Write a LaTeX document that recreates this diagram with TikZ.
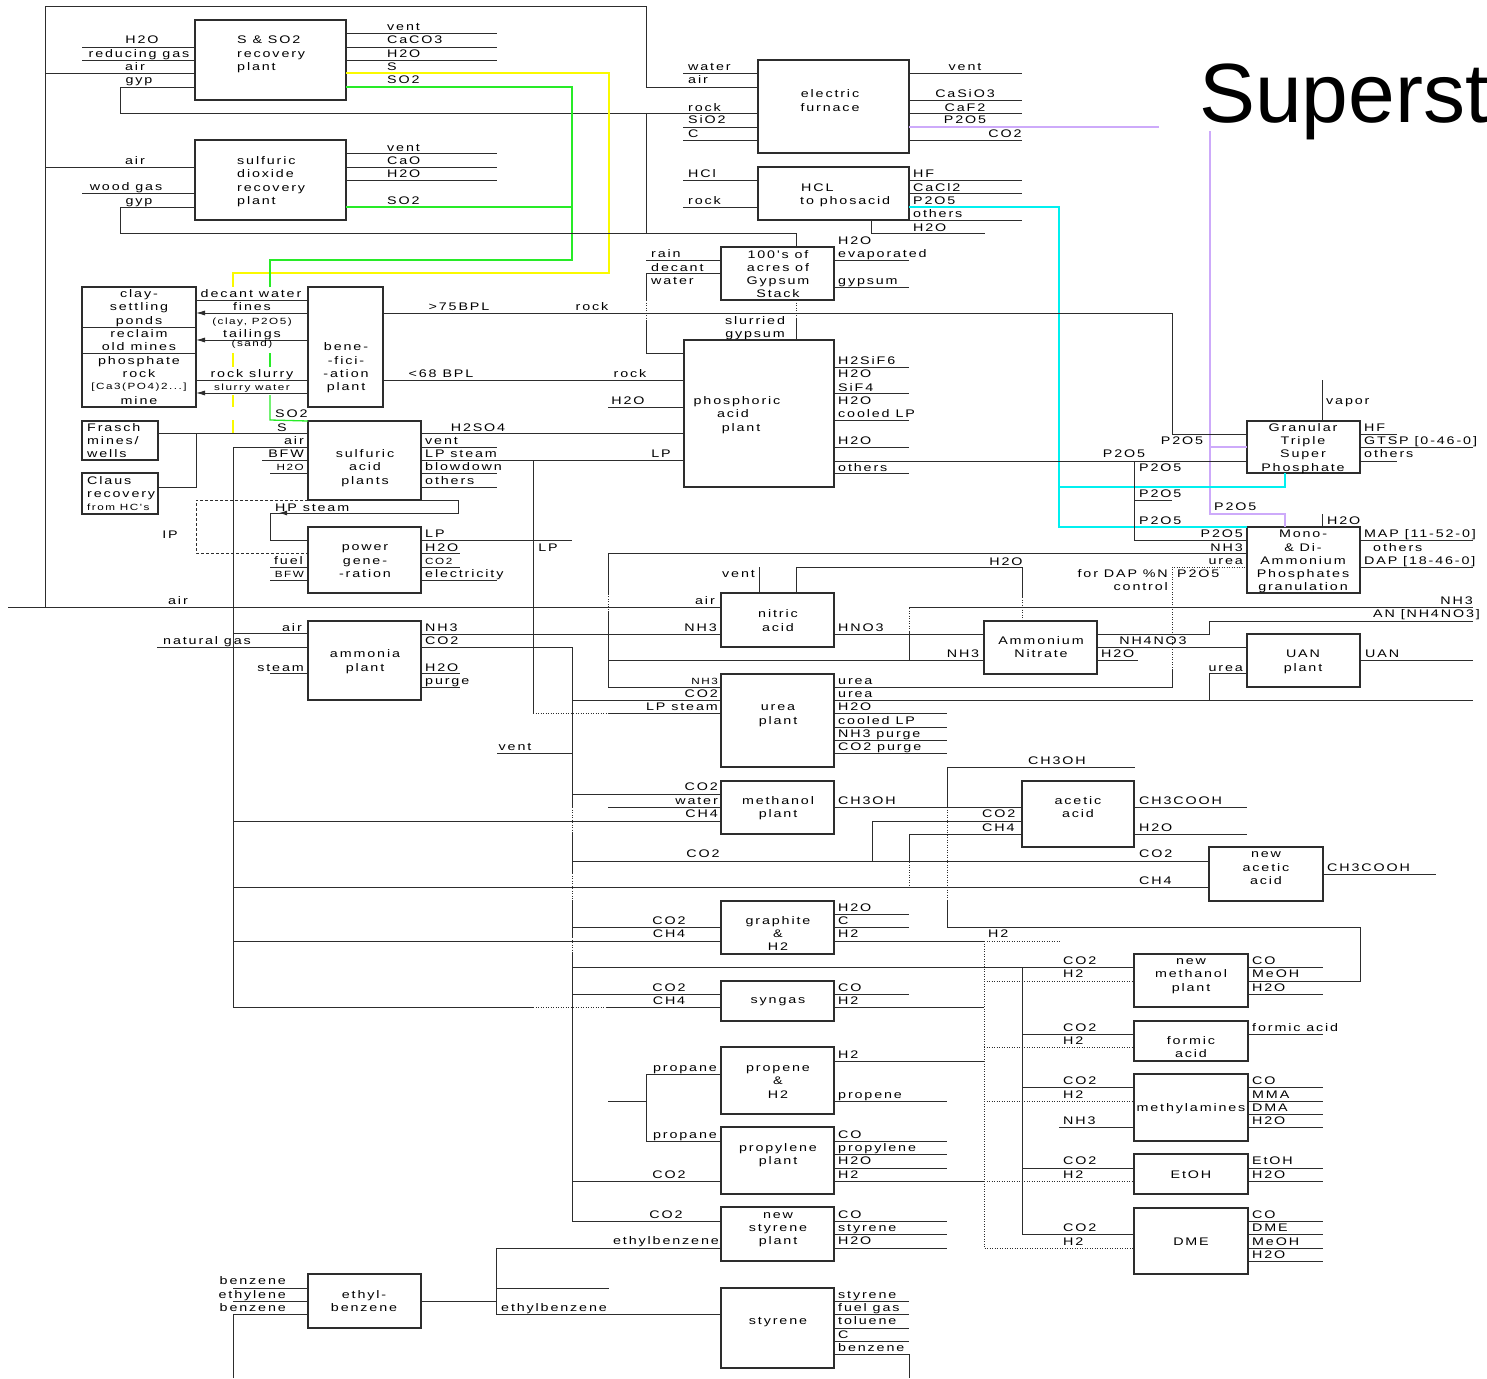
\documentclass[tikz,border=0pt]{standalone}
\usepackage{fontspec}
\setmainfont{Liberation Sans}
\newfontfamily\lblf[FakeStretch=1.3,LetterSpace=17]{Liberation Sans}
\usetikzlibrary{arrows.meta}
\definecolor{dk}{RGB}{45,45,45}
\definecolor{yel}{RGB}{250,250,0}
\definecolor{grn}{RGB}{40,235,40}
\definecolor{cyn}{RGB}{0,240,240}
\definecolor{lav}{RGB}{205,170,250}
\newcounter{lbc}
\newcommand\smf{\fontsize{9}{10}\selectfont}
\newcommand\labC[3]{\stepcounter{lbc}\node[lbl] (t\arabic{lbc}) at (#1,#2) {#3};}
\newcommand\labW[3]{\stepcounter{lbc}\node[lbl,anchor=base west] (t\arabic{lbc}) at (#1,#2) {#3};}
\newcommand\labE[3]{\stepcounter{lbc}\node[lbl,anchor=base east] (t\arabic{lbc}) at (#1,#2) {#3};}
\newcommand\bx[5]{\node[box,minimum width={#4-#2},minimum height={#5-#3}] (#1) at ({(#2+#4)/2},{(#3+#5)/2}) {};}
\newcommand\rs[3]{\draw[ln] (#1.east|-0,#2) -- (#3,#2);}
\newcommand\ls[3]{\draw[ln] (#3,#2) -- (#1.west|-0,#2);}
\begin{document}
\begin{tikzpicture}[x=1pt,y=-1pt,
  ln/.style={draw=dk,line width=0.9pt},
  dl/.style={draw=dk,line width=0.9pt,dash pattern=on 1pt off 1.5pt},
  dsh/.style={draw=dk,line width=0.9pt,dash pattern=on 3pt off 2pt},
  ar/.style={draw=dk,line width=0.9pt,-{Latex[length=9pt,width=5pt]}},
  yl/.style={draw=yel,line width=1.3pt},
  gn/.style={draw=grn,line width=1.3pt},
  cy/.style={draw=cyn,line width=1.3pt},
  lv/.style={draw=lav,line width=1.3pt},
  box/.style={draw=dk,line width=1.3pt,rectangle,inner sep=0pt,outer sep=0pt},
  lbl/.style={font={\lblf\fontsize{11}{13.33}\selectfont},inner sep=0pt,anchor=base,text=black}]
\fill[white] (0,0) rectangle (1487,1378);
\useasboundingbox (0,0) rectangle (1487,1378);
% title
\node[font={\fontsize{84}{90}\selectfont},anchor=base west,inner sep=0pt] (title) at (1199,122) {Superst};
% boxes
\bx{ssr}{195}{20}{346}{100}
\bx{sdr}{195}{140}{346}{220}
\bx{ef}{758}{60}{909}{153}
\bx{hcl}{758}{167}{909}{220}
\bx{gys}{721}{247}{834}{300}
\bx{clay}{82}{287}{196}{407}
\bx{ben}{308}{287}{383}{407}
\bx{phos}{684}{340}{834}{487}
\bx{fra}{82}{421}{158}{460}
\bx{cla}{82}{473}{158}{514}
\bx{sap}{308}{421}{421}{500}
\bx{pg}{308}{527}{421}{593}
\bx{amm}{308}{621}{421}{700}
\bx{nit}{721}{593}{834}{647}
\bx{ure}{721}{674}{834}{767}
\bx{meth}{721}{781}{834}{834}
\bx{gra}{721}{901}{834}{954}
\bx{syn}{721}{981}{834}{1021}
\bx{prp}{721}{1047}{834}{1114}
\bx{pyl}{721}{1127}{834}{1194}
\bx{nst}{721}{1207}{834}{1261}
\bx{sty}{721}{1288}{834}{1368}
\bx{eth}{308}{1274}{421}{1328}
\bx{gtsp}{1247}{421}{1360}{473}
\bx{map}{1247}{527}{1360}{593}
\bx{an}{984}{621}{1097}{674}
\bx{uan}{1247}{634}{1360}{687}
\bx{ace}{1022}{781}{1134}{847}
\bx{nac}{1209}{847}{1323}{901}
\bx{nme}{1134}{954}{1248}{1007}
\bx{fac}{1134}{1021}{1248}{1061}
\bx{mea}{1134}{1074}{1248}{1141}
\bx{eto}{1134}{1154}{1248}{1194}
\bx{dme}{1134}{1208}{1248}{1274}
% outer loop and top plants
\draw[ln] (45,607) -- (45,6) -- (646,6) -- (646,87) -- (ef.west|-0,87);
\ls{ssr}{73}{45}
\ls{sdr}{167}{45}
\ls{ssr}{47}{82}
\ls{ssr}{60}{82}
\draw[ln] (ssr.west|-0,87) -- (120,87) -- (120,113) -- (ef.west|-0,113);
\draw[ln] (646,113) -- (646,233);
\rs{ssr}{33}{497} \rs{ssr}{47}{497} \rs{ssr}{60}{497}
\draw[yl] (ssr.east|-0,73) -- (609,73) -- (609,273) -- (233,273) -- (233,287);
\draw[gn] (ssr.east|-0,87) -- (572,87) -- (572,260) -- (270,260) -- (270,287);
\ls{sdr}{193}{82}
\draw[ln] (sdr.west|-0,207) -- (120,207) -- (120,233) -- (796,233) -- (gys.north-|796,0);
\rs{sdr}{153}{497} \rs{sdr}{167}{497} \rs{sdr}{180}{497}
\draw[gn] (sdr.east|-0,207) -- (572,207);
% electric furnace
\ls{ef}{73}{683} \ls{ef}{127}{683} \ls{ef}{140}{683}
\rs{ef}{73}{1022} \rs{ef}{100}{1022} \rs{ef}{113}{1022} \rs{ef}{140}{1022}
\draw[lv] (ef.east|-0,127) -- (1159,127);
\draw[lv] (1210,131) -- (1210,514) -- (1285,514) -- (map.north-|1285,0);
\draw[lv] (1210,447) -- (gtsp.west|-0,447);
% HCl
\ls{hcl}{180}{683} \ls{hcl}{207}{683}
\rs{hcl}{180}{1022} \rs{hcl}{193}{1022} \rs{hcl}{220}{1022}
\draw[cy] (hcl.east|-0,207) -- (1059,207) -- (1059,527) -- (map.north west);
\draw[cy] (1059,487) -- (1285,487) -- (gtsp.south-|1285,0);
\draw[ln] (hcl.south-|871,0) -- (871,233) -- (985,233);
% gypsum stack
\ls{gys}{260}{646}
\draw[ln] (gys.west|-0,273) -- (646,273) -- (646,300);
\draw[dl] (646,300) -- (646,320);
\draw[ln] (646,320) -- (646,353) -- (phos.west|-0,353);
\rs{gys}{260}{909} \rs{gys}{287}{909}
\draw[dl] (gys.south-|796,0) -- (796,318);
\draw[ln] (796,318) -- (phos.north-|796,0);
% rock / phosphoric acid
\draw[ln] (ben.east|-0,313) -- (1172,313) -- (1172,434) -- (gtsp.west|-0,434);
\draw[ln] (ben.east|-0,380) -- (phos.west|-0,380);
\ls{phos}{407}{608}
\draw[ln] (sap.east|-0,433) -- (phos.west|-0,433);
\draw[ln] (sap.east|-0,460) -- (phos.west|-0,460);
\draw[ln] (533,460) -- (533,713);
\draw[dl] (533,713) -- (608,713);
\draw[ln] (608,713) -- (ure.west|-0,713);
\rs{phos}{367}{909} \rs{phos}{393}{909} \rs{phos}{420}{909} \rs{phos}{447}{909} \rs{phos}{473}{909}
\draw[ln] (phos.east|-0,461) -- (gtsp.west|-0,461);
\draw[ln] (1134,461) -- (1134,540) -- (map.west|-0,540);
\draw[ln] (1134,500) -- (1172,500);
% clay ponds / beneficiation
\draw[ln] (clay.west|-0,327) -- (clay.east|-0,327);
\draw[ln] (clay.west|-0,353) -- (clay.east|-0,353);
\draw[ln] (clay.east|-0,300) -- (ben.west|-0,300);
\draw[ar] (ben.west|-0,313) -- (clay.east|-0,313);
\draw[ar] (ben.west|-0,340) -- (clay.east|-0,340);
\draw[ln] (clay.east|-0,380) -- (ben.west|-0,380);
\draw[ar] (ben.west|-0,393) -- (clay.east|-0,393);
\draw[yl] (233,353) -- (233,367);
\draw[yl] (233,395) -- (233,407);
\draw[yl] (233,420) -- (233,433);
\draw[gn] (270,353) -- (270,367);
\draw[gn] (270,395) -- (270,420) -- (sap.north west);
% sulfuric acid
\draw[ln] (fra.east|-0,433) -- (sap.west|-0,433);
\draw[ln] (cla.east|-0,487) -- (196,487) -- (196,433);
\ls{sap}{447}{233}
\ls{sap}{460}{262}
\ls{sap}{473}{270}
\rs{sap}{447}{497} \rs{sap}{473}{497} \rs{sap}{487}{497}
\draw[ln] (pg.west|-0,540) -- (270,540) -- (270,513) -- (458,513) -- (458,500) -- (sap.south east);
\draw[ln,-{Latex[length=8pt,width=5pt]}] (296,513) -- (279,513);
\draw[dsh] (sap.south west) -- (196,500) -- (196,553) -- (pg.west|-0,553);
% power generation
\ls{pg}{567}{270} \ls{pg}{580}{270}
\rs{pg}{540}{572} \rs{pg}{553}{460} \rs{pg}{567}{460} \rs{pg}{580}{497}
% air / ammonia
\draw[ln] (8,607) -- (nit.west|-0,607);
\draw[ln] (233,447) -- (233,1007);
\ls{amm}{633}{233}
\ls{amm}{647}{157}
\ls{amm}{673}{270}
\draw[ln] (amm.east|-0,634) -- (nit.west|-0,634);
\draw[ln] (amm.east|-0,647) -- (572,647) -- (572,807);
\draw[dl] (572,807) -- (572,833);
\draw[ln] (572,833) -- (572,873);
\draw[dl] (572,873) -- (572,900);
\draw[ln] (572,900) -- (572,937);
\draw[dl] (572,937) -- (572,953);
\draw[ln] (572,953) -- (572,1221) -- (nst.west|-0,1221);
\rs{amm}{673}{460} \rs{amm}{687}{460}
% NH3 network
\draw[ln] (ure.west|-0,687) -- (608,687) -- (608,612);
\draw[dl] (608,612) -- (608,595);
\draw[ln] (608,595) -- (608,553) -- (map.west|-0,553);
\draw[ln] (608,660) -- (an.west|-0,660);
% nitric acid
\draw[ln] (759,567) -- (nit.north-|759,0);
\draw[ln] (nit.north-|796,0) -- (796,567) -- (1022,567) -- (1022,597);
\draw[dl] (1022,597) -- (an.north-|1022,0);
\draw[ln] (nit.east|-0,634) -- (an.west|-0,634);
\draw[ln] (909,607) -- (1473,607);
\draw[dl] (909,608) -- (909,632);
\draw[ln] (909,632) -- (909,660);
% ammonium nitrate / UAN
\draw[ln] (an.east|-0,634) -- (1209,634) -- (1209,621) -- (1473,621);
\draw[ln] (an.east|-0,647) -- (uan.west|-0,647);
\draw[ln] (an.east|-0,660) -- (1138,660);
\draw[ln] (1209,700) -- (1209,673) -- (uan.west|-0,673);
\rs{uan}{660}{1473}
% urea
\draw[ln] (ure.east|-0,687) -- (1172,687) -- (1172,670);
\draw[dl] (1172,670) -- (1172,567) -- (map.west|-0,567);
\draw[ln] (ure.east|-0,700) -- (1473,700);
\rs{ure}{713}{947} \rs{ure}{727}{947} \rs{ure}{740}{947} \rs{ure}{753}{947}
\ls{ure}{700}{572}
\draw[ln] (497,753) -- (572,753);
% GTSP and MAP/DAP
\draw[ln] (gtsp.north-|1322,0) -- (1322,380);
\rs{gtsp}{434}{1397} \rs{gtsp}{447}{1473} \rs{gtsp}{461}{1397}
\draw[ln] (map.north-|1322,0) -- (1322,514);
\rs{map}{540}{1473} \rs{map}{567}{1473}
% methanol / acetic acid
\ls{meth}{794}{572} \ls{meth}{807}{608} \ls{meth}{821}{233}
\draw[ln] (meth.east|-0,807) -- (ace.west|-0,807);
\draw[ln] (947,767) -- (947,807);
\draw[dl] (947,807) -- (947,900);
\draw[ln] (947,900) -- (947,927);
\draw[ln] (947,767) -- (1135,767);
\draw[ln] (947,927) -- (1360,927) -- (1360,981) -- (nme.east|-0,981);
\draw[ln] (572,861) -- (nac.west|-0,861);
\draw[ln] (872,861) -- (872,821) -- (ace.west|-0,821);
\draw[ln] (233,887) -- (nac.west|-0,887);
\draw[ln] (ace.west|-0,834) -- (909,834) -- (909,862);
\draw[dl] (909,862) -- (909,887);
\rs{ace}{807}{1247} \rs{ace}{834}{1247}
\rs{nac}{874}{1436}
% graphite and CO2/H2 users
\ls{gra}{927}{572} \ls{gra}{941}{233}
\rs{gra}{914}{909} \rs{gra}{927}{909}
\draw[ln] (gra.east|-0,941) -- (984,941);
\draw[dl] (984,941) -- (1060,941);
\draw[dl] (984,941) -- (984,1248) -- (dme.west|-0,1248);
\draw[ln] (572,967) -- (nme.west|-0,967);
\draw[ln] (1022,967) -- (1022,1234) -- (dme.west|-0,1234);
\ls{fac}{1034}{1022} \ls{mea}{1087}{1022} \ls{eto}{1168}{1022}
\draw[dl] (984,981) -- (nme.west|-0,981);
\draw[dl] (984,1047) -- (fac.west|-0,1047);
\draw[dl] (984,1101) -- (mea.west|-0,1101);
\draw[dl] (984,1181) -- (eto.west|-0,1181);
\ls{mea}{1127}{1059}
\rs{nme}{967}{1323} \rs{nme}{994}{1323}
\rs{fac}{1034}{1323}
\rs{mea}{1087}{1323} \rs{mea}{1101}{1323} \rs{mea}{1114}{1323} \rs{mea}{1127}{1323}
\rs{eto}{1168}{1323} \rs{eto}{1181}{1323}
\rs{dme}{1221}{1323} \rs{dme}{1234}{1323} \rs{dme}{1248}{1323} \rs{dme}{1261}{1323}
% syngas
\ls{syn}{994}{572}
\draw[ln] (233,1007) -- (533,1007);
\draw[dl] (533,1007) -- (607,1007);
\draw[ln] (607,1007) -- (syn.west|-0,1007);
\rs{syn}{994}{909} \rs{syn}{1007}{984}
% propene / propylene / styrene
\draw[ln] (608,1101) -- (646,1101);
\draw[ln] (prp.west|-0,1074) -- (646,1074) -- (646,1141) -- (pyl.west|-0,1141);
\rs{prp}{1061}{984} \rs{prp}{1101}{947}
\ls{pyl}{1181}{572}
\rs{pyl}{1141}{947} \rs{pyl}{1154}{947} \rs{pyl}{1168}{947} \rs{pyl}{1181}{984}
\rs{nst}{1221}{947} \rs{nst}{1234}{947} \rs{nst}{1248}{947}
\draw[ln] (nst.west|-0,1248) -- (496,1248) -- (496,1314) -- (sty.west|-0,1314);
\draw[ln] (496,1288) -- (609,1288);
\draw[ln] (eth.east|-0,1301) -- (496,1301);
\ls{eth}{1288}{233} \ls{eth}{1301}{233}
\draw[ln] (233,1378) -- (233,1314) -- (eth.west|-0,1314);
\rs{sty}{1301}{909} \rs{sty}{1314}{909} \rs{sty}{1328}{909} \rs{sty}{1341}{909}
\draw[ln] (sty.east|-0,1354) -- (909,1354) -- (909,1378);
% ---------------- labels ----------------
\labC{142}{44}{H2O}
\labC{139}{57.5}{reducing gas}
\labC{135}{70.5}{air}
\labC{139}{84}{gyp}
\labW{237}{44}{S \& SO2} \labW{237}{57.5}{recovery} \labW{237}{70.5}{plant}
\labW{387}{31}{vent} \labW{387}{44}{CaCO3} \labW{387}{57.5}{H2O} \labW{387}{71}{S} \labW{387}{84}{SO2}
\labC{135}{164}{air} \labC{126}{190.5}{wood gas} \labC{139}{204}{gyp}
\labW{237}{164}{sulfuric} \labW{237}{177.5}{dioxide} \labW{237}{191}{recovery} \labW{237}{204}{plant}
\labW{387}{151}{vent} \labW{387}{164}{CaO} \labW{387}{177.5}{H2O} \labW{387}{204}{SO2}
\labW{688}{71}{water} \labW{688}{84}{air} \labW{688}{111}{rock} \labW{688}{124}{SiO2} \labW{688}{137.5}{C}
\labC{830}{97.5}{electric} \labC{830}{111}{furnace}
\labC{965}{71}{vent} \labC{965}{97.5}{CaSiO3} \labC{965}{111}{CaF2} \labC{965}{124}{P2O5} \labC{1005}{137.5}{CO2}
\labW{688}{177.5}{HCl} \labW{688}{204}{rock}
\labW{801}{191}{HCL} \labW{800}{204}{to phosacid}
\labW{913}{177.5}{HF} \labW{913}{191}{CaCl2} \labW{913}{204}{P2O5} \labW{913}{217.5}{others} \labW{913}{231}{H2O}
\labC{778}{258}{100's of} \labC{778}{271}{acres of} \labC{778}{284.5}{Gypsum} \labC{778}{297.5}{Stack}
\labW{651}{257.5}{rain} \labW{651}{271}{decant} \labW{651}{284}{water}
\labW{838}{244}{H2O} \labW{838}{257.5}{evaporated} \labW{838}{284.5}{gypsum}
\labC{755}{324}{slurried} \labC{755}{337.5}{gypsum}
\labC{139}{297.5}{clay-} \labC{139}{310.7}{settling} \labC{139}{324}{ponds} \labC{139}{337.5}{reclaim} \labC{139}{350.5}{old mines}
\labC{139}{364}{phosphate} \labC{139}{377}{rock} \labC{139}{389.5}{\smf [Ca3(PO4)2...]} \labC{139}{404}{mine}
\labC{251}{297.5}{decant water}
\labC{252}{310.7}{fines}
\labC{252}{324}{\smf (clay, P2O5)}
\labC{252}{337.5}{tailings}
\labC{252}{346.5}{\smf (sand)}
\labC{252}{377.5}{rock slurry}
\labC{252}{390.5}{\smf slurry water}
\labC{346}{350.5}{bene-} \labC{346}{364}{-fici-} \labC{346}{377.5}{-ation} \labC{346}{390.5}{plant}
\labC{459}{310.7}{>75BPL} \labC{592}{310.7}{rock}
\labC{441}{377.5}{<68 BPL} \labC{630}{377.5}{rock} \labC{628}{404}{H2O}
\labC{737}{404}{phosphoric} \labC{733}{417.5}{acid} \labC{741}{431}{plant}
\labW{838}{364.5}{H2SiF6} \labW{838}{377.5}{H2O} \labW{838}{391}{SiF4} \labW{838}{404}{H2O} \labW{838}{417.5}{cooled LP} \labW{838}{444}{H2O} \labW{838}{471}{others}
\labC{661}{457.5}{LP}
\labC{478}{431}{H2SO4}
\labW{87}{431}{Frasch} \labW{87}{444}{mines/} \labW{87}{457.5}{wells}
\labW{87}{484}{Claus} \labW{87}{497.5}{recovery} \labW{87}{510.5}{\smf from HC's}
\labW{275}{417}{SO2} \labC{282}{431}{S} \labE{304}{444}{air} \labE{304}{457.5}{BFW} \labE{304}{470.5}{\smf H2O}
\labC{365}{457.5}{sulfuric} \labC{365}{470.5}{acid} \labC{365}{484}{plants}
\labW{425}{444}{vent} \labW{425}{457.5}{LP steam} \labW{425}{470.5}{blowdown} \labW{425}{484}{others}
\labW{275}{511}{HP steam}
\labC{170}{538}{IP}
\labC{365}{550.5}{power} \labC{365}{564}{gene-} \labC{365}{577.5}{-ration}
\labE{303}{564}{fuel} \labE{304}{577.5}{\smf BFW}
\labW{425}{537.5}{LP} \labW{425}{551}{H2O} \labW{425}{564}{\smf CO2} \labW{425}{577.5}{electricity}
\labC{548}{551}{LP}
\labC{178}{604.5}{air}
\labE{302}{631}{air} \labC{207}{644}{natural gas} \labE{304}{671}{steam}
\labC{365}{657.5}{ammonia} \labC{365}{671}{plant}
\labW{425}{631}{NH3} \labW{425}{644}{CO2} \labW{425}{671}{H2O} \labW{425}{684}{purge}
\labC{778}{617.5}{nitric} \labC{778}{631}{acid}
\labE{755}{577.5}{vent} \labE{715}{604.5}{air} \labE{717}{631}{NH3}
\labW{838}{631}{HNO3}
\labC{1006}{565}{H2O}
\labC{963}{657}{NH3}
\labC{1041}{644}{Ammonium} \labC{1041}{657.5}{Nitrate}
\labC{1153}{644.5}{NH4NO3} \labW{1101}{657.5}{H2O}
\labE{1480}{617.5}{AN [NH4NO3]} \labE{1473}{604.5}{NH3}
\labE{1243}{671}{urea}
\labC{1303}{657.5}{UAN} \labC{1303}{671}{plant}
\labW{1365}{657.5}{UAN}
\labC{1303}{537.5}{Mono-} \labC{1303}{551}{\& Di-} \labC{1303}{564}{Ammonium} \labC{1303}{577.5}{Phosphates} \labC{1303}{590.5}{granulation}
\labE{1243}{537.5}{P2O5} \labE{1243}{551}{NH3} \labE{1243}{564}{urea}
\labE{1168}{577.5}{for DAP \%N} \labE{1168}{590.5}{control} \labW{1177}{577.5}{P2O5}
\labW{1364}{537.5}{MAP [11-52-0]} \labW{1373}{551}{others} \labW{1364}{564.5}{DAP [18-46-0]}
\labW{1327}{524}{H2O}
\labC{1303}{431}{Granular} \labC{1303}{444}{Triple} \labC{1303}{457.5}{Super} \labC{1303}{471}{Phosphate}
\labW{1326}{404}{vapor}
\labW{1364}{431}{HF} \labW{1364}{444}{GTSP [0-46-0]} \labW{1364}{457.5}{others}
\labC{1182}{444}{P2O5} \labC{1124}{457.5}{P2O5} \labW{1139}{471}{P2O5} \labW{1139}{497.5}{P2O5} \labW{1139}{524}{P2O5}
\labW{1214}{510.7}{P2O5}
\labC{778}{710.7}{urea} \labC{778}{724}{plant}
\labE{718}{684}{\smf NH3} \labE{718}{697.5}{CO2} \labE{718}{710.7}{LP steam}
\labW{838}{684}{urea} \labW{838}{697.5}{urea} \labW{838}{710.7}{H2O} \labW{838}{724}{cooled LP} \labW{838}{737.5}{NH3 purge} \labW{838}{750.7}{CO2 purge}
\labC{515}{750.7}{vent}
\labC{778}{804}{methanol} \labC{778}{817.5}{plant}
\labE{718}{790.7}{CO2} \labE{718}{804}{water} \labE{718}{817.5}{CH4}
\labW{838}{804}{CH3OH}
\labC{703}{857.5}{CO2}
\labC{1078}{804}{acetic} \labC{1078}{817.5}{acid}
\labW{982}{817.5}{CO2} \labW{982}{831}{CH4}
\labW{1139}{804}{CH3COOH} \labW{1139}{831}{H2O}
\labC{1057}{764}{CH3OH}
\labW{1139}{857.5}{CO2} \labW{1139}{884}{CH4}
\labC{1266}{857.5}{new} \labC{1266}{871}{acetic} \labC{1266}{884}{acid}
\labW{1327}{871}{CH3COOH}
\labC{778}{924}{graphite} \labC{778}{937.5}{\&} \labC{778}{950.7}{H2}
\labC{669}{924}{CO2} \labC{669}{937.5}{CH4}
\labW{838}{911}{H2O} \labW{838}{924}{C} \labW{838}{937.5}{H2}
\labW{988}{937.5}{H2}
\labC{778}{1003}{syngas}
\labC{669}{991}{CO2} \labC{669}{1004}{CH4}
\labW{838}{991}{CO} \labW{838}{1004}{H2}
\labC{1191}{964}{new} \labC{1191}{977.5}{methanol} \labC{1191}{991}{plant}
\labW{1063}{964}{CO2} \labW{1063}{977.5}{H2}
\labW{1252}{964}{CO} \labW{1252}{977.5}{MeOH} \labW{1252}{991}{H2O}
\labC{1191}{1044}{formic} \labC{1191}{1057.5}{acid}
\labW{1063}{1031}{CO2} \labW{1063}{1044}{H2}
\labW{1252}{1031}{formic acid}
\labC{1191}{1111}{methylamines}
\labW{1063}{1084.5}{CO2} \labW{1063}{1098}{H2} \labW{1063}{1124.5}{NH3}
\labW{1252}{1084.5}{CO} \labW{1252}{1098}{MMA} \labW{1252}{1111}{DMA} \labW{1252}{1124.5}{H2O}
\labC{1191}{1178}{EtOH}
\labW{1063}{1164.5}{CO2} \labW{1063}{1178}{H2}
\labW{1252}{1164.5}{EtOH} \labW{1252}{1178}{H2O}
\labC{1191}{1245}{DME}
\labW{1063}{1231.5}{CO2} \labW{1063}{1245}{H2}
\labW{1252}{1218}{CO} \labW{1252}{1231.5}{DME} \labW{1252}{1245}{MeOH} \labW{1252}{1258}{H2O}
\labC{778}{1071}{propene} \labC{778}{1084.5}{\&} \labC{778}{1098}{H2}
\labE{717}{1071}{propane} \labE{717}{1138}{propane}
\labW{838}{1058}{H2} \labW{838}{1098}{propene}
\labC{778}{1151}{propylene} \labC{778}{1164.5}{plant}
\labC{669}{1178}{CO2}
\labW{838}{1138}{CO} \labW{838}{1151}{propylene} \labW{838}{1164.5}{H2O} \labW{838}{1178}{H2}
\labC{778}{1218}{new} \labC{778}{1231}{styrene} \labC{778}{1244.5}{plant}
\labC{666}{1218}{CO2} \labE{719}{1244.5}{ethylbenzene}
\labW{838}{1218}{CO} \labW{838}{1231}{styrene} \labW{838}{1244.5}{H2O}
\labC{778}{1324}{styrene}
\labW{838}{1298}{styrene} \labW{838}{1311}{fuel gas} \labW{838}{1324}{toluene} \labW{838}{1338}{C} \labW{838}{1351}{benzene}
\labW{501}{1311}{ethylbenzene}
\labC{364}{1298}{ethyl-} \labC{364}{1311}{benzene}
\labE{286}{1284.5}{benzene} \labE{286}{1298}{ethylene} \labE{286}{1311}{benzene}
\end{tikzpicture}
\end{document}
